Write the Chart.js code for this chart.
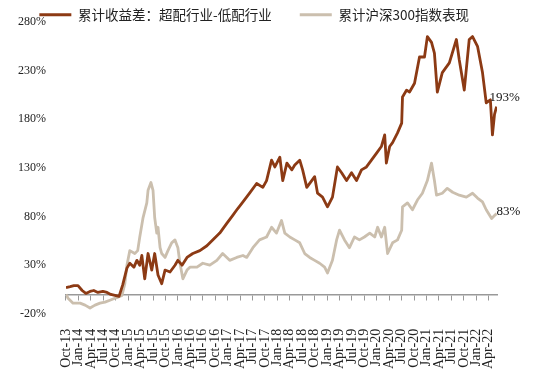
<!DOCTYPE html>
<html>
<head>
<meta charset="utf-8">
<script src="https://cdn.jsdelivr.net/npm/chart.js@4.4.0/dist/chart.umd.min.js"></script>
<style>
  html, body { margin: 0; padding: 0; background: #fff; }
  #wrap { width: 550px; height: 376px; }
</style>
</head>
<body>
<div id="wrap"><canvas id="chart"></canvas></div>
<script>
 // quarter labels on the x axis (one every 3 months from Oct-13)
 const tickLabels = ['Oct-13','Jan-14','Apr-14','Jul-14','Oct-14','Jan-15','Apr-15','Jul-15','Oct-15',
   'Jan-16','Apr-16','Jul-16','Oct-16','Jan-17','Apr-17','Jul-17','Oct-17','Jan-18','Apr-18','Jul-18',
   'Oct-18','Jan-19','Apr-19','Jul-19','Oct-19','Jan-20','Apr-20','Jul-20','Oct-20','Jan-21','Apr-21',
   'Jul-21','Oct-21','Jan-22','Apr-22'];

 // months since Oct-2013 and cumulative excess return (%)
 const spreadMonths = [0,1.0,1.9,2.9,3.9,4.8,5.8,6.7,7.7,8.9,9.9,10.8,11.8,12.8,13.7,14.7,15.4,16.4,17.1,17.8,
   18.3,19.0,19.8,20.7,21.4,22.2,23.1,23.9,25.1,26.3,27.0,28.0,29.2,30.6,32.3,34.0,35.4,37.1,38.8,40.2,
   41.4,42.7,44.3,46.0,47.5,48.4,49.6,50.4,51.6,52.3,53.3,54.5,55.2,56.4,57.1,58.1,59.3,60.0,60.7,61.9,
   63.1,64.3,65.5,66.5,67.7,68.9,70.1,71.3,72.5,73.7,74.9,76.1,76.9,77.3,78.1,78.8,80.0,81.0,81.2,82.2,
   82.9,84.1,85.3,86.5,87.2,88.2,88.9,89.6,90.8,92.5,94.2,94.9,96.1,97.3,98.1,99.3,100.5,101.4,102.4,102.9,
   103.4,103.9];
 const spreadPct = [7,8,9,9,4,1,3,4,2,3,2,0,-1,-2,10,27,32,28,35,30,
   40,16,42,25,42,20,11,25,23,30,35,30,38,42,45,50,56,63,73,81,
   88,95,104,114,110,117,138,131,141,117,135,128,133,138,128,110,117,121,104,100,
   90,100,131,125,117,125,117,128,131,138,145,152,164,135,152,156,166,176,203,210,
   208,217,244,244,265,259,248,208,228,238,262,241,210,262,265,255,228,197,200,164,
   185,193];

 // months since Oct-2013 and cumulative CSI 300 return (%)
 const csiMonths = [0,0.5,1.7,3.4,4.6,5.8,7.0,8.2,9.4,10.6,11.8,12.5,13.5,14.2,14.7,15.4,16.6,17.3,17.8,18.6,
   19.5,19.8,20.5,21.0,21.4,21.9,22.2,22.7,23.1,23.9,24.6,25.5,26.3,27.0,27.5,28.2,29.2,29.9,31.6,33.0,
   34.7,36.4,37.8,39.5,41.2,42.7,43.6,45.1,46.7,48.4,49.6,50.8,52.0,52.8,54.0,55.2,56.4,57.6,58.8,60.0,
   61.2,62.4,63.1,64.3,65.3,66.0,67.2,68.4,69.6,70.8,72.0,73.3,74.5,75.2,76.1,76.9,77.6,78.8,80.0,81.0,
   81.2,82.4,83.6,84.8,86.0,87.2,88.2,88.9,89.4,90.8,92.0,93.3,94.9,96.6,98.1,99.3,100.5,101.4,102.7,103.4,
   103.9];
 const csiPct = [0,-4,-9,-9,-11,-14,-11,-9,-8,-6,-4,-3,-1,11,30,45,42,45,59,79,
   94,107,115,107,79,63,69,48,42,38,45,53,56,48,32,16,25,28,28,32,
   30,35,42,35,38,40,38,48,56,59,69,63,76,63,59,56,53,42,38,35,
   32,28,22,35,56,66,56,48,59,56,59,63,59,69,59,69,42,53,56,66,
   90,94,87,97,104,117,135,117,102,104,109,105,102,100,104,99,95,87,78,81,
   83];

 const brown = '#8C3A14';
 const beige = '#CBBFAE';
 const serif = '"Liberation Serif", "DejaVu Serif", serif';

 const toPoints = (xs, ys) => xs.map((x, i) => ({ x: x, y: ys[i] }));

 // value labels at the end of each line
 const endLabelOffsets = [[-7, -9], [0, -2]];
 const endLabels = {
     id: 'endLabels',
     afterDatasetsDraw(chart) {
         const ctx = chart.ctx;
         ctx.save();
         ctx.font = '13px ' + serif;
         ctx.fillStyle = '#111';
         ctx.textBaseline = 'middle';
         chart.data.datasets.forEach((ds, i) => {
             const pts = chart.getDatasetMeta(i).data;
             const last = pts[pts.length - 1];
             const v = ds.data[ds.data.length - 1].y;
             ctx.fillText(Math.round(v) + '%', last.x + endLabelOffsets[i][0], last.y + endLabelOffsets[i][1]);
         });
         ctx.restore();
     }
 };

 const data = {
     datasets: [
         {
             label: '累计收益差：超配行业-低配行业',
             data: toPoints(spreadMonths, spreadPct),
             borderColor: brown,
             backgroundColor: brown,
             borderWidth: 2.8
         },
         {
             label: '累计沪深300指数表现',
             data: toPoints(csiMonths, csiPct),
             borderColor: beige,
             backgroundColor: beige,
             borderWidth: 2.8
         }
     ]
 };

 const options = {
     responsive: true,
     maintainAspectRatio: false,
     animation: false,
     layout: { padding: { left: -2, right: 53, top: -20, bottom: -8 } },
     elements: {
         point: { radius: 0 },
         line: { tension: 0, borderJoinStyle: 'round' }
     },
     plugins: {
         tooltip: { enabled: false },
         legend: {
             position: 'top',
             align: 'end',
             maxHeight: 42,
             labels: {
                 usePointStyle: true,
                 pointStyle: 'line',
                 pointStyleWidth: 32,
                 padding: 28,
                 color: '#222',
                 font: { family: '"Noto Sans CJK SC"', size: 13.5 }
             }
         }
     },
     scales: {
         x: {
             type: 'linear',
             min: 0,
             max: 104,
             grid: { display: false, drawTicks: false },
             border: { display: false },
             ticks: {
                 stepSize: 3,
                 includeBounds: false,
                 autoSkip: false,
                 minRotation: 90,
                 maxRotation: 90,
                 padding: 15,
                 color: '#222',
                 font: { family: serif, size: 14 },
                 callback: (v) => tickLabels[Math.round(v / 3)] ?? ''
             }
         },
         // axis line with tick marks drawn at 0%
         x0: {
             type: 'linear',
             position: { y: 0 },
             min: 0,
             max: 104,
             grid: { drawOnChartArea: false, drawTicks: true, tickLength: 5, color: '#999' },
             border: { display: true, color: '#999', width: 1.5 },
             ticks: { stepSize: 3, includeBounds: false, autoSkip: false, display: false }
         },
         y: {
             min: -20,
             max: 280,
             grid: { display: false, drawTicks: false },
             border: { display: false },
             // keep the tick padding from pushing the plot down
             afterFit: (scale) => { scale.paddingTop = 8; },
             ticks: {
                 stepSize: 50,
                 padding: 20,
                 color: '#222',
                 font: { family: serif, size: 12 },
                 callback: (v) => v + '%'
             }
         }
     }
 };

 const ctx = document.getElementById('chart').getContext('2d');
 const myChart = new Chart(ctx, {
     type: 'line',
     data: data,
     options: options,
     plugins: [endLabels]
 });
</script>
</body>
</html>
